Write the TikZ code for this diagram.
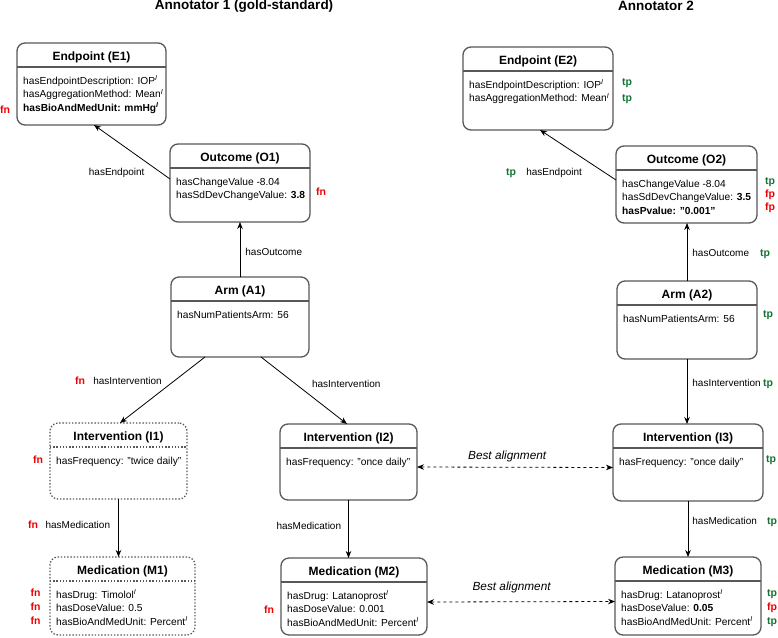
\documentclass[tikz,border=0pt]{standalone}
\usepackage{fontspec}
\setmainfont{Liberation Sans}
\usetikzlibrary{arrows.meta,positioning}

\definecolor{tpgreen}{RGB}{20,115,50}
\definecolor{fnred}{RGB}{238,0,0}
\definecolor{boxgray}{RGB}{88,88,88}
\newcommand{\instI}{\textsuperscript{\itshape I}}
\newcommand{\bstrut}{\rule{0pt}{10pt}}

\begin{document}
\begin{tikzpicture}[x=1pt,y=-1pt,
    ent/.style={draw=boxgray, line width=1.3pt, rounded corners=8pt, outer sep=0pt, inner sep=0pt},
    entdot/.style={dash pattern=on 1.4pt off 1.8pt},
    htitle/.style={font=\fontsize{13.5}{16}\selectfont\bfseries, inner sep=0pt},
    etitle/.style={font=\fontsize{12}{14}\selectfont\bfseries, inner sep=0pt},
    ebody/.style={anchor=north west, align=left, inner xsep=6pt, inner ysep=0pt,
                  font=\fontsize{10.2}{13.5}\selectfont},
    divline/.style={draw=boxgray, line width=1.3pt},
    divdot/.style={divline, dash pattern=on 1.4pt off 1.8pt},
    rel/.style={draw, -{Stealth[length=7pt,width=5.5pt]}, line width=.8pt},
    bestalign/.style={draw, {Stealth[length=7pt,width=5.5pt]}-{Stealth[length=7pt,width=5.5pt]},
                      line width=.8pt, dash pattern=on 3pt off 3pt},
    lbl/.style={font=\fontsize{10}{12}\selectfont, inner sep=0pt},
    ballbl/.style={font=\fontsize{11.8}{14}\selectfont\itshape, inner sep=0pt},
    tpmark/.style={font=\fontsize{10.5}{12}\selectfont\bfseries, text=tpgreen, inner sep=0pt, anchor=mid},
    fnmark/.style={font=\fontsize{10.5}{12}\selectfont\bfseries, text=fnred, inner sep=0pt, anchor=mid}]

  \useasboundingbox (0,0) rectangle (778,637);

  \node[htitle] (H1) at (244,6) {Annotator 1 (gold-standard)};
  \node[htitle] (H2) at (656,6) {Annotator 2};

  % entity boxes
  \begin{scope}[every node/.style={ent}]
    \node[minimum width=149pt, minimum height=82pt] (E1) at (91.5,84)    {};
    \node[minimum width=150pt, minimum height=83pt] (E2) at (538,88.5)   {};
    \node[minimum width=140pt, minimum height=78pt] (O1) at (240,183)    {};
    \node[minimum width=141pt, minimum height=77pt] (O2) at (686.5,184.5) {};
    \node[minimum width=138pt, minimum height=80pt] (A1) at (240,317)    {};
    \node[minimum width=140pt, minimum height=78pt] (A2) at (687,320)    {};
    \node[entdot, minimum width=137pt, minimum height=76pt] (I1) at (118.5,461) {};
    \node[minimum width=137pt, minimum height=76pt] (I2) at (348.5,462)  {};
    \node[minimum width=150pt, minimum height=77pt] (I3) at (688,462.5)  {};
    \node[entdot, minimum width=145pt, minimum height=78pt] (M1) at (122.5,596) {};
    \node[minimum width=146pt, minimum height=77pt] (M2) at (354,596.5)  {};
    \node[minimum width=146pt, minimum height=78pt] (M3) at (688,596)    {};
  \end{scope}

  \foreach \b/\t in {E1/Endpoint (E1), E2/Endpoint (E2), O1/Outcome (O1), O2/Outcome (O2),
                     A1/Arm (A1), A2/Arm (A2), I2/Intervention (I2), I3/Intervention (I3),
                     M2/Medication (M2), M3/Medication (M3)} {
    \node[etitle] (\b-title) at ([yshift=-14pt]\b.north) {\t};
    \draw[divline] ([yshift=-24pt]\b.north west) -- ([yshift=-24pt]\b.north east);
  }
  \foreach \b/\t in {I1/Intervention (I1), M1/Medication (M1)} {
    \node[etitle] (\b-title) at ([yshift=-14pt]\b.north) {\t};
    \draw[divdot] ([yshift=-24pt]\b.north west) -- ([yshift=-24pt]\b.north east);
  }

  % attributes
  \node[ebody] (E1-body) at ([yshift=-31pt]E1.north west)
    {\bstrut hasEndpointDescription: IOP\instI\\ hasAggregationMethod: Mean\instI\\
     \textbf{hasBioAndMedUnit: mmHg\instI}};
  \node[ebody] (E2-body) at ([yshift=-31pt]E2.north west)
    {\bstrut hasEndpointDescription: IOP\instI\\ hasAggregationMethod: Mean\instI};
  \node[ebody] (O1-body) at ([yshift=-31pt]O1.north west)
    {\bstrut hasChangeValue -8.04\\ hasSdDevChangeValue: \textbf{3.8}};
  \node[ebody] (O2-body) at ([yshift=-31pt]O2.north west)
    {\bstrut hasChangeValue -8.04\\ hasSdDevChangeValue: \textbf{3.5}\\ \textbf{hasPvalue: "0.001"}};
  \node[ebody] (A1-body) at ([yshift=-31pt]A1.north west) {\bstrut hasNumPatientsArm: 56};
  \node[ebody] (A2-body) at ([yshift=-31pt]A2.north west) {\bstrut hasNumPatientsArm: 56};
  \node[ebody] (I1-body) at ([yshift=-31pt]I1.north west) {\bstrut hasFrequency: "twice daily"};
  \node[ebody] (I2-body) at ([yshift=-31pt]I2.north west) {\bstrut hasFrequency: "once daily"};
  \node[ebody] (I3-body) at ([yshift=-31pt]I3.north west) {\bstrut hasFrequency: "once daily"};
  \node[ebody] (M1-body) at ([yshift=-31pt]M1.north west)
    {\bstrut hasDrug: Timolol\instI\\ hasDoseValue: 0.5\\ hasBioAndMedUnit: Percent\instI};
  \node[ebody] (M2-body) at ([yshift=-31pt]M2.north west)
    {\bstrut hasDrug: Latanoprost\instI\\ hasDoseValue: 0.001\\ hasBioAndMedUnit: Percent\instI};
  \node[ebody] (M3-body) at ([yshift=-31pt]M3.north west)
    {\bstrut hasDrug: Latanoprost\instI\\ hasDoseValue: \textbf{0.05}\\ hasBioAndMedUnit: Percent\instI};

  % relations
  \path ([yshift=4pt]O1.west) edge[rel] node[lbl, pos=.12, anchor=mid east, xshift=-16pt] {hasEndpoint} ([xshift=2.5pt]E1.south);
  \path ([yshift=4.5pt]O2.west) edge[rel] node[lbl, pos=.14, anchor=mid east, xshift=-23pt] {hasEndpoint} ([xshift=2pt]E2.south);
  \path (A1.north) edge[rel] node[lbl, pos=.44, anchor=mid west, xshift=5pt] {hasOutcome} (O1.south);
  \path (A2.north) edge[rel] node[lbl, pos=.47, anchor=mid west, xshift=5pt] {hasOutcome} (A2.north |- O2.south);
  \path ([xshift=-35pt]A1.south) edge[rel] node[lbl, pos=.375, anchor=mid east, xshift=-11pt] {hasIntervention} ([xshift=1.5pt]I1.north);
  \path ([xshift=21pt]A1.south) edge[rel] node[lbl, pos=.415, anchor=mid west, xshift=15pt] {hasIntervention} ([xshift=-1.5pt]I2.north);
  \path (A2.south) edge[rel] node[lbl, pos=.385, anchor=mid west, xshift=5pt] {hasIntervention} (A2.south |- I3.north);
  \path (I1.south) edge[rel] node[lbl, pos=.47, anchor=mid east, xshift=-8pt] {hasMedication} (I1.south |- M1.north);
  \path (I2.south) edge[rel] node[lbl, pos=.47, anchor=mid east, xshift=-7pt] {hasMedication} (I2.south |- M2.north);
  \path (I3.south) edge[rel] node[lbl, pos=.375, anchor=mid west, xshift=4pt] {hasMedication} (I3.south |- M3.north);

  \path ([yshift=-5pt]I2.east) edge[bestalign] node[ballbl, pos=.46, above=5pt] {Best alignment} ([yshift=-5pt]I3.west);
  \path ([yshift=-5.5pt]M2.east) edge[bestalign] node[ballbl, pos=.45, above=8pt] {Best alignment} ([yshift=-5.5pt]M3.west);

  % evaluation marks
  \begin{scope}[every node/.style={fnmark}]
    \node (fn1)  at (5,111)   {fn};
    \node (fn2)  at (321,193) {fn};
    \node (fn3)  at (80,382)  {fn};
    \node (fn4)  at (38,461)  {fn};
    \node (fn5)  at (33,526)  {fn};
    \node (fn6)  at (35.5,594) {fn};
    \node (fn7)  at (35.5,608) {fn};
    \node (fn8)  at (35.5,622) {fn};
    \node (fn9)  at (269,611) {fn};
    \node (fp1)  at (770,195) {fp};
    \node (fp2)  at (770,208) {fp};
    \node (fp3)  at (772,608) {fp};
  \end{scope}
  \begin{scope}[every node/.style={tpmark}]
    \node (tp1)  at (627,83)  {tp};
    \node (tp2)  at (627,99)  {tp};
    \node (tp3)  at (770,182) {tp};
    \node (tp4)  at (511,173) {tp};
    \node (tp5)  at (765,254) {tp};
    \node (tp6)  at (768,315) {tp};
    \node (tp7)  at (768,384) {tp};
    \node (tp8)  at (771,460) {tp};
    \node (tp9)  at (772,522) {tp};
    \node (tp10) at (772,594) {tp};
    \node (tp11) at (772,622) {tp};
  \end{scope}

\end{tikzpicture}
\end{document}
